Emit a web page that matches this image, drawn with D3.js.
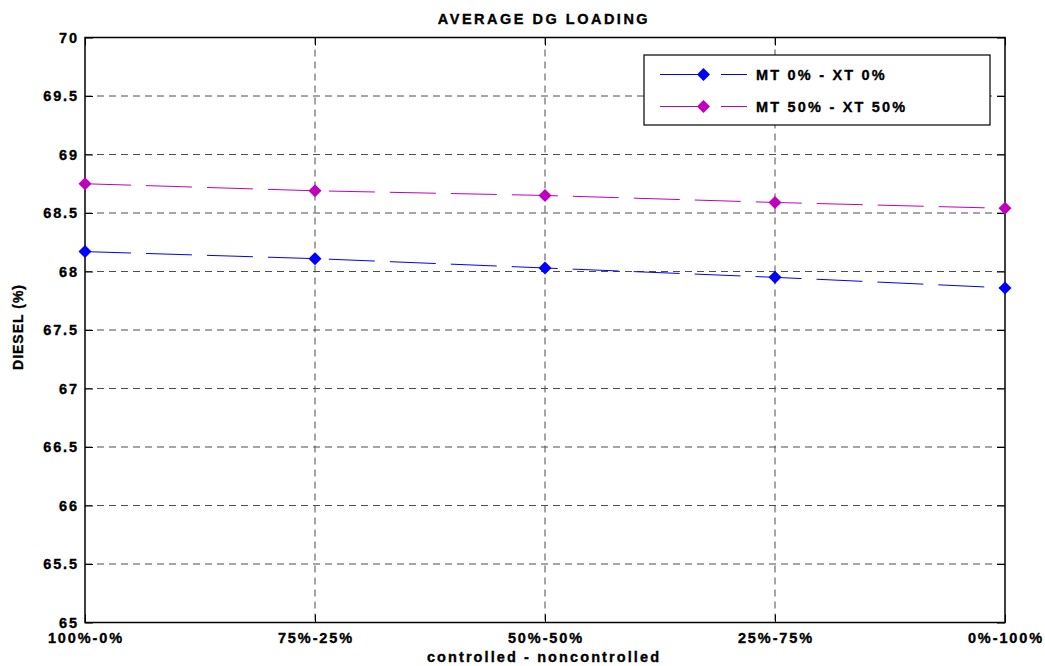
<!DOCTYPE html>
<html>
<head>
<meta charset="utf-8">
<script src="https://cdn.jsdelivr.net/npm/d3@7"></script>
<style>
  html, body { margin: 0; padding: 0; background: #fff; }
  text { font-family: "Liberation Sans", Arial, Helvetica, sans-serif; font-weight: bold; fill: #000;
         stroke: #000; stroke-width: 0.35px; }
</style>
</head>
<body>
<svg id="chart" width="1045" height="666"></svg>
<script>
// Categories on the x axis (share of controlled vs noncontrolled load)
const categories = ["100%-0%", "75%-25%", "50%-50%", "25%-75%", "0%-100%"];
// Average diesel generator loading (%) per scenario
const seriesNames = ["MT 0% - XT 0%", "MT 50% - XT 50%"];
const mt0xt0 = [68.17, 68.11, 68.03, 67.95, 67.86];
const mt50xt50 = [68.75, 68.69, 68.65, 68.59, 68.54];
const yTicks = [65, 65.5, 66, 66.5, 67, 67.5, 68, 68.5, 69, 69.5, 70];
const seriesColors = ["#0000ff", "#bf00bf"];

const series = [mt0xt0, mt50xt50].map((vals, i) => ({
  name: seriesNames[i], color: seriesColors[i], values: vals
}));

const svg = d3.select("#chart");
const margin = { left: 85, right: 40, top: 37.5, bottom: 43.5 };
const W = 1045, H = 666;
const x0 = margin.left, x1 = W - margin.right;
const y0 = margin.top, y1 = H - margin.bottom;

const x = d3.scalePoint().domain(categories).range([x0, x1]);
const y = d3.scaleLinear().domain([65, 70]).range([y1, y0]);

const gridColor = "#4d4d4d";
const tickLen = 8;

// grid lines
const grid = svg.append("g");
grid.selectAll("line.hg").data(yTicks.filter(t => t > 65 && t < 70)).join("line")
  .attr("x1", x0).attr("x2", x1)
  .attr("y1", d => y(d)).attr("y2", d => y(d))
  .attr("stroke", gridColor).attr("stroke-width", 1).attr("stroke-dasharray", "7,5");
grid.selectAll("line.vg").data(categories.slice(1, -1)).join("line")
  .attr("x1", d => x(d)).attr("x2", d => x(d))
  .attr("y1", y0).attr("y2", y1)
  .attr("stroke", gridColor).attr("stroke-width", 1).attr("stroke-dasharray", "7,5");

// axes (ticks inward, on all four sides)
const leftAxis = d3.axisRight(y).tickValues(yTicks).tickSize(tickLen).tickFormat("");
const rightAxis = d3.axisLeft(y).tickValues(yTicks).tickSize(tickLen).tickFormat("");
const bottomAxis = d3.axisTop(x).tickSize(tickLen).tickFormat("");
const topAxis = d3.axisBottom(x).tickSize(tickLen).tickFormat("");

[[leftAxis, `translate(${x0},0)`], [rightAxis, `translate(${x1},0)`],
 [bottomAxis, `translate(0,${y1})`], [topAxis, `translate(0,${y0})`]].forEach(([ax, tr]) => {
  const g = svg.append("g").attr("transform", tr).call(ax);
  g.select(".domain").remove();
  g.selectAll("line").attr("stroke", "#000").attr("stroke-width", 1);
});

// frame
svg.append("rect").attr("x", x0).attr("y", y0)
  .attr("width", x1 - x0).attr("height", y1 - y0)
  .attr("fill", "none").attr("stroke", "#000").attr("stroke-width", 1.5);

// tick labels
svg.append("g").selectAll("text").data(yTicks).join("text")
  .attr("x", x0 - 6).attr("y", d => y(d)).attr("dy", "0.36em")
  .attr("text-anchor", "end").attr("font-size", 14.5).attr("letter-spacing", "1.9px")
  .text(d => String(d));
svg.append("g").selectAll("text").data(categories).join("text")
  .attr("x", d => x(d) + 1).attr("y", y1 + 20)
  .attr("text-anchor", "middle").attr("font-size", 14.5).attr("letter-spacing", "1.9px")
  .text(d => d);

// data lines and markers
const line = d3.line().x((d, i) => x(categories[i])).y(d => y(d));
const diamond = s => `M0,${-s}L${s},0L0,${s}L${-s},0Z`;

series.forEach(s => {
  svg.append("path").datum(s.values)
    .attr("d", line).attr("fill", "none")
    .attr("stroke", s.color).attr("stroke-width", 1)
    .attr("stroke-dasharray", "46,15");
  svg.append("g").selectAll("path").data(s.values).join("path")
    .attr("transform", (d, i) => `translate(${x(categories[i])},${y(d)})`)
    .attr("d", diamond(6.5)).attr("fill", s.color);
});

// legend
const lg = svg.append("g");
lg.append("rect").attr("x", 644).attr("y", 55).attr("width", 346).attr("height", 70)
  .attr("fill", "#fff").attr("stroke", "#000").attr("stroke-width", 1.2);
series.forEach((s, i) => {
  const ly = 74.5 + i * 32;
  lg.append("line").attr("x1", 660).attr("x2", 747).attr("y1", ly).attr("y2", ly)
    .attr("stroke", s.color).attr("stroke-width", 1).attr("stroke-dasharray", "46,15");
  lg.append("path").attr("transform", `translate(703.5,${ly})`)
    .attr("d", diamond(6.5)).attr("fill", s.color);
  lg.append("text").attr("x", 756).attr("y", ly).attr("dy", "0.36em")
    .attr("font-size", 14.5).attr("letter-spacing", "2.2px").text(s.name);
});

// titles
svg.append("text").attr("x", 544).attr("y", 24).attr("text-anchor", "middle")
  .attr("font-size", 14.5).attr("letter-spacing", "2.5px").text("AVERAGE DG LOADING");
svg.append("text").attr("x", 544).attr("y", 662).attr("text-anchor", "middle")
  .attr("font-size", 14.5).attr("letter-spacing", "2.1px").text("controlled - noncontrolled");
svg.append("text").attr("transform", "translate(23,327) rotate(-90)")
  .attr("text-anchor", "middle").attr("font-size", 14).attr("letter-spacing", "1px")
  .text("DIESEL (%)");
</script>
</body>
</html>
